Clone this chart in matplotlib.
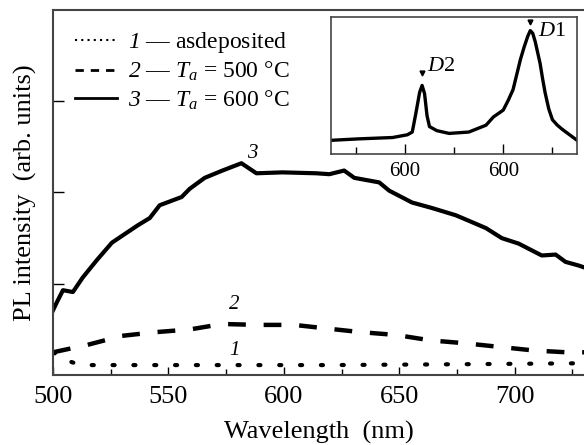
import matplotlib.pyplot as plt
from matplotlib.lines import Line2D

plt.rcParams['font.family'] = 'Liberation Serif'
plt.rcParams['mathtext.fontset'] = 'custom'
plt.rcParams['mathtext.rm'] = 'Liberation Serif'
plt.rcParams['mathtext.it'] = 'Liberation Serif:italic'
plt.rcParams['mathtext.sf'] = 'Liberation Serif:italic'  # italic digits

# --- main spectra ---
wl3 = [500, 501.7, 504.3, 508.6, 512.9, 519.0, 525.5, 530.2, 536.7, 541.9, 546.2,
       555.7, 559.2, 565.7, 573.4, 581.6, 588.1, 599.4, 614.0, 619.7, 626.1, 630.5,
       641.3, 645.6, 655.5, 664.1, 674.5, 680.1, 687.5, 694.4, 701.7, 711.7, 717.7,
       722.0, 727.7, 730]
pl3 = [0.71, 0.80, 0.93, 0.91, 1.07, 1.26, 1.45, 1.53, 1.64, 1.72, 1.86,
       1.95, 2.04, 2.16, 2.24, 2.32, 2.21, 2.22, 2.21, 2.20, 2.24, 2.16,
       2.11, 2.02, 1.89, 1.83, 1.75, 1.69, 1.61, 1.50, 1.44, 1.31, 1.32,
       1.24, 1.20, 1.18]

wl2 = [500, 514.7, 529.8, 544.1, 559.2, 573.4, 588.6, 604.5, 618.8, 633.5, 648.6,
       663.7, 678.0, 693.1, 708.2, 722.5, 730]
pl2 = [0.25, 0.33, 0.43, 0.47, 0.50, 0.56, 0.55, 0.55, 0.51, 0.47, 0.44,
       0.38, 0.35, 0.31, 0.27, 0.25, 0.25]

wl1 = [500, 506, 512, 560, 620, 680, 730]
pl1 = [0.25, 0.16, 0.11, 0.11, 0.11, 0.12, 0.13]

# --- inset spectrum (relative units) ---
ins_x = [0.4, 11, 25, 31, 33, 34.5, 36, 37, 38, 39, 40, 43, 48, 56, 63, 66, 70, 72,
         74, 75.5, 77, 78.5, 80, 81, 82, 83, 85, 86, 87, 88.5, 90, 92, 94, 97, 100]
ins_y = [0.10, 0.11, 0.12, 0.14, 0.16, 0.30, 0.45, 0.50, 0.44, 0.28, 0.20, 0.17,
         0.15, 0.16, 0.21, 0.27, 0.32, 0.39, 0.47, 0.58, 0.69, 0.78, 0.86, 0.90,
         0.88, 0.82, 0.66, 0.55, 0.45, 0.33, 0.25, 0.21, 0.18, 0.14, 0.10]
peak_x = [37, 81]
peak_y = [0.59, 0.96]
peak_names = ['$D$2', '$D$1']

fig = plt.figure(figsize=(5.84, 4.45), dpi=100)
ax = fig.add_axes([0.0908, 0.157, 0.9092, 0.821])

ax.plot(wl3, pl3, color='black', lw=3, solid_joinstyle='round')
ax.plot(wl2, pl2, color='black', lw=3.2, dashes=(4, 4))
ax.plot(wl1, pl1, color='black', lw=3, dashes=(0.5, 4.5), dash_capstyle='round')

ax.set_xlim(500, 730)
ax.set_ylim(0, 4)
ax.set_xticks([500, 550, 600, 650, 700])
ax.set_xticks([525, 575, 625, 675, 725], minor=True)
ax.set_yticks([1, 2, 3])
ax.set_yticklabels([])
ax.tick_params(axis='x', direction='in', length=6, width=1, labelsize=19, pad=8)
ax.tick_params(axis='x', which='minor', direction='in', length=4, width=1)
ax.tick_params(axis='y', direction='in', length=8, width=1)
for s in ax.spines.values():
    s.set_color('#444444')
    s.set_linewidth(1.5)
ax.spines['right'].set_visible(False)

ax.set_xlabel('Wavelength  (nm)', fontsize=19, labelpad=9)
ax.set_ylabel('PL intensity  (arb. units)', fontsize=19, labelpad=8)

ax.text(586.4, 2.43, '3', fontsize=15, style='italic', ha='center', va='center')
ax.text(578.6, 0.77, '2', fontsize=15, style='italic', ha='center', va='center')
ax.text(578.6, 0.27, '1', fontsize=15, style='italic', ha='center', va='center')

handles = [Line2D([], [], color='black', lw=1.5, dashes=(1, 2)),
           Line2D([], [], color='black', lw=2, dashes=(3, 2.5)),
           Line2D([], [], color='black', lw=2)]
labels = [r'$\mathsf{1}$ — asdeposited',
          r'$\mathsf{2}$ — $T_a$ = 500 °C',
          r'$\mathsf{3}$ — $T_a$ = 600 °C']
ax.legend(handles, labels, loc='upper left', bbox_to_anchor=(0.01, 0.99),
          frameon=False, fontsize=17, handlelength=1.8, handletextpad=0.45,
          labelspacing=0.22, borderaxespad=0.3)

# --- inset ---
axi = fig.add_axes([0.567, 0.654, 0.421, 0.308])
axi.plot(ins_x, ins_y, color='black', lw=2.4)
axi.plot(peak_x, peak_y, 'v', color='black', ms=3.5, ls='none')
axi.text(peak_x[0] + 2, peak_y[0] + 0.05, peak_names[0], fontsize=16, va='center')
axi.text(peak_x[1] + 3, peak_y[1] - 0.07, peak_names[1], fontsize=16, va='center')
axi.set_xlim(0, 100)
axi.set_ylim(0, 1)
axi.set_xticks([30, 70])
axi.set_xticklabels(['600', '600'])
axi.set_xticks([10, 50, 90], minor=True)
axi.set_yticks([])
axi.tick_params(axis='x', direction='in', length=7, width=1, labelsize=15, pad=6)
axi.tick_params(axis='x', which='minor', direction='in', length=5, width=1)
for s in axi.spines.values():
    s.set_color('#444444')
    s.set_linewidth(1.2)

fig.savefig('out.png', dpi=100)
